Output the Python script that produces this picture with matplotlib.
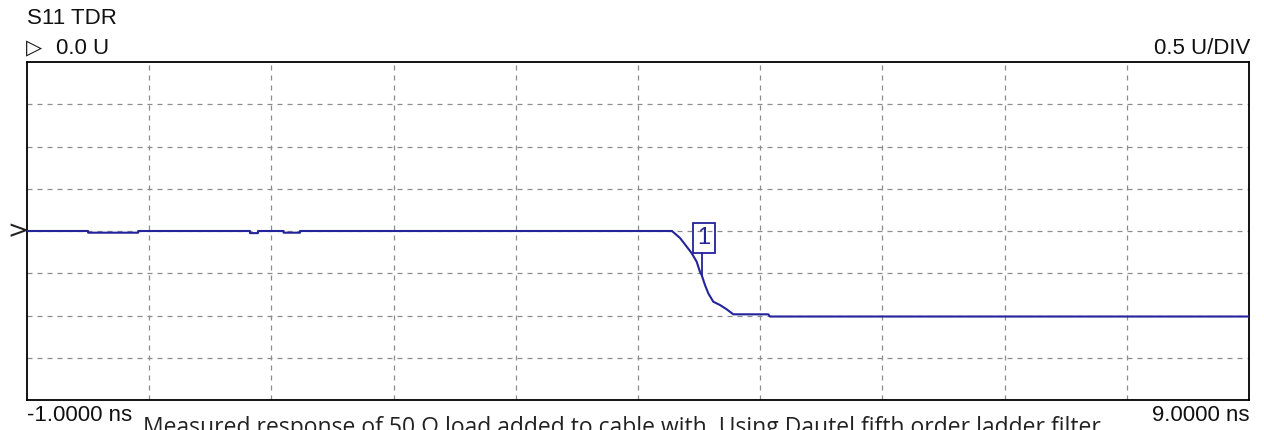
import matplotlib
matplotlib.use("Agg")
import matplotlib.pyplot as plt
from matplotlib.patches import Rectangle

# ---- data -------------------------------------------------------------
time_ns = [-1.00, -0.50, -0.50, -0.09, -0.09, 0.825, 0.825, 0.89, 0.89,
           1.10, 1.10, 1.234, 1.234, 4.278, 4.344, 4.399, 4.440, 4.480,
           4.507, 4.521, 4.548, 4.575, 4.616, 4.671, 4.726, 4.780, 5.066,
           5.080, 9.00]
level_u = [0.00, 0.00, -0.02, -0.02, 0.00, 0.00, -0.025, -0.025, 0.00,
           0.00, -0.02, -0.02, 0.00, 0.00, -0.083, -0.186, -0.264, -0.363,
           -0.482, -0.521, -0.639, -0.737, -0.837, -0.876, -0.927, -0.986,
           -0.986, -1.012, -1.012]

marker_t = 4.52
marker_v = -0.52
marker_label = "1"

title = "S11 TDR"
ref_label = "0.0 U"
scale_label = "0.5 U/DIV"
start_label = "-1.0000 ns"
stop_label = "9.0000 ns"
caption = ("Measured response of 50 \u03a9 load added to cable with  "
           "Using Dautel fifth order ladder filter")

t_min, t_max = -1.0, 9.0
v_min, v_max = -2.0, 2.0
v_div = 0.5

# ---- layout ----------------------------------------------------------
W, H = 1264, 430
fig = plt.figure(figsize=(W / 100, H / 100), dpi=100)
ax_l, ax_r, ax_t, ax_b = 27, 1249, 62, 400
ax = fig.add_axes([ax_l / W, 1 - ax_b / H, (ax_r - ax_l) / W, (ax_b - ax_t) / H])


def fx(x):
    return x / W


def fy(y):
    return 1 - y / H


trace_col = "#23239b"
grid_col = "#8c8c8c"

ax.set_xlim(t_min, t_max)
ax.set_ylim(v_min, v_max)
ax.set_xticks([])
ax.set_yticks([])
for sp in ax.spines.values():
    sp.set_color("black")
    sp.set_linewidth(1.3)

# dashed graticule
t = t_min + 1
while t < t_max - 1e-9:
    ax.axvline(t, color=grid_col, lw=0.9, ls=(0, (4, 4)), zorder=1)
    t += 1
v = v_min + v_div
while v < v_max - 1e-9:
    ax.axhline(v, color=grid_col, lw=0.9, ls=(0, (4, 4)), zorder=1)
    v += v_div

ax.plot(time_ns, level_u, color=trace_col, lw=1.5, zorder=3)

# marker box above the trace point
px_per_ns = (ax_r - ax_l) / (t_max - t_min)
px_per_u = (ax_b - ax_t) / (v_max - v_min)
box_w, box_h, gap = 22, 30, 22
bx = marker_t - (box_w / 2 - 2) / px_per_ns
by = marker_v + gap / px_per_u
ax.add_patch(Rectangle((bx, by), box_w / px_per_ns, box_h / px_per_u,
                       fill=False, edgecolor=trace_col, lw=1.3, zorder=4))
ax.plot([marker_t, marker_t], [marker_v, by], color=trace_col, lw=1.3, zorder=4)
ax.text(bx + box_w / 2 / px_per_ns, by + box_h / 2 / px_per_u, marker_label,
        color=trace_col, ha="center", va="center", fontsize=17,
        family="Liberation Sans", zorder=5)

# annotations around the graticule
lab = dict(family=["Liberation Sans", "DejaVu Sans"], fontsize=16, color="#111111")
fig.text(fx(27), fy(8), title, ha="left", va="top", **lab)
fig.text(fx(26), fy(38), "\u25b7", ha="left", va="top",
         family="DejaVu Sans", fontsize=15, color="#111111")
fig.text(fx(56), fy(38), ref_label, ha="left", va="top", **lab)
fig.text(fx(1250), fy(38), scale_label, ha="right", va="top", **lab)
fig.text(fx(27), fy(405), start_label, ha="left", va="top", **lab)
fig.text(fx(1250), fy(405), stop_label, ha="right", va="top", **lab)
fig.text(fx(7), fy(231), ">", ha="left", va="center",
         family="DejaVu Sans", fontsize=18, color="#222222")

fig.text(fx(143), fy(416), caption, ha="left", va="top",
         family=["Open Sans", "DejaVu Sans"], fontsize=16.5, color="#222222")

fig.savefig("out.png", dpi=100)
